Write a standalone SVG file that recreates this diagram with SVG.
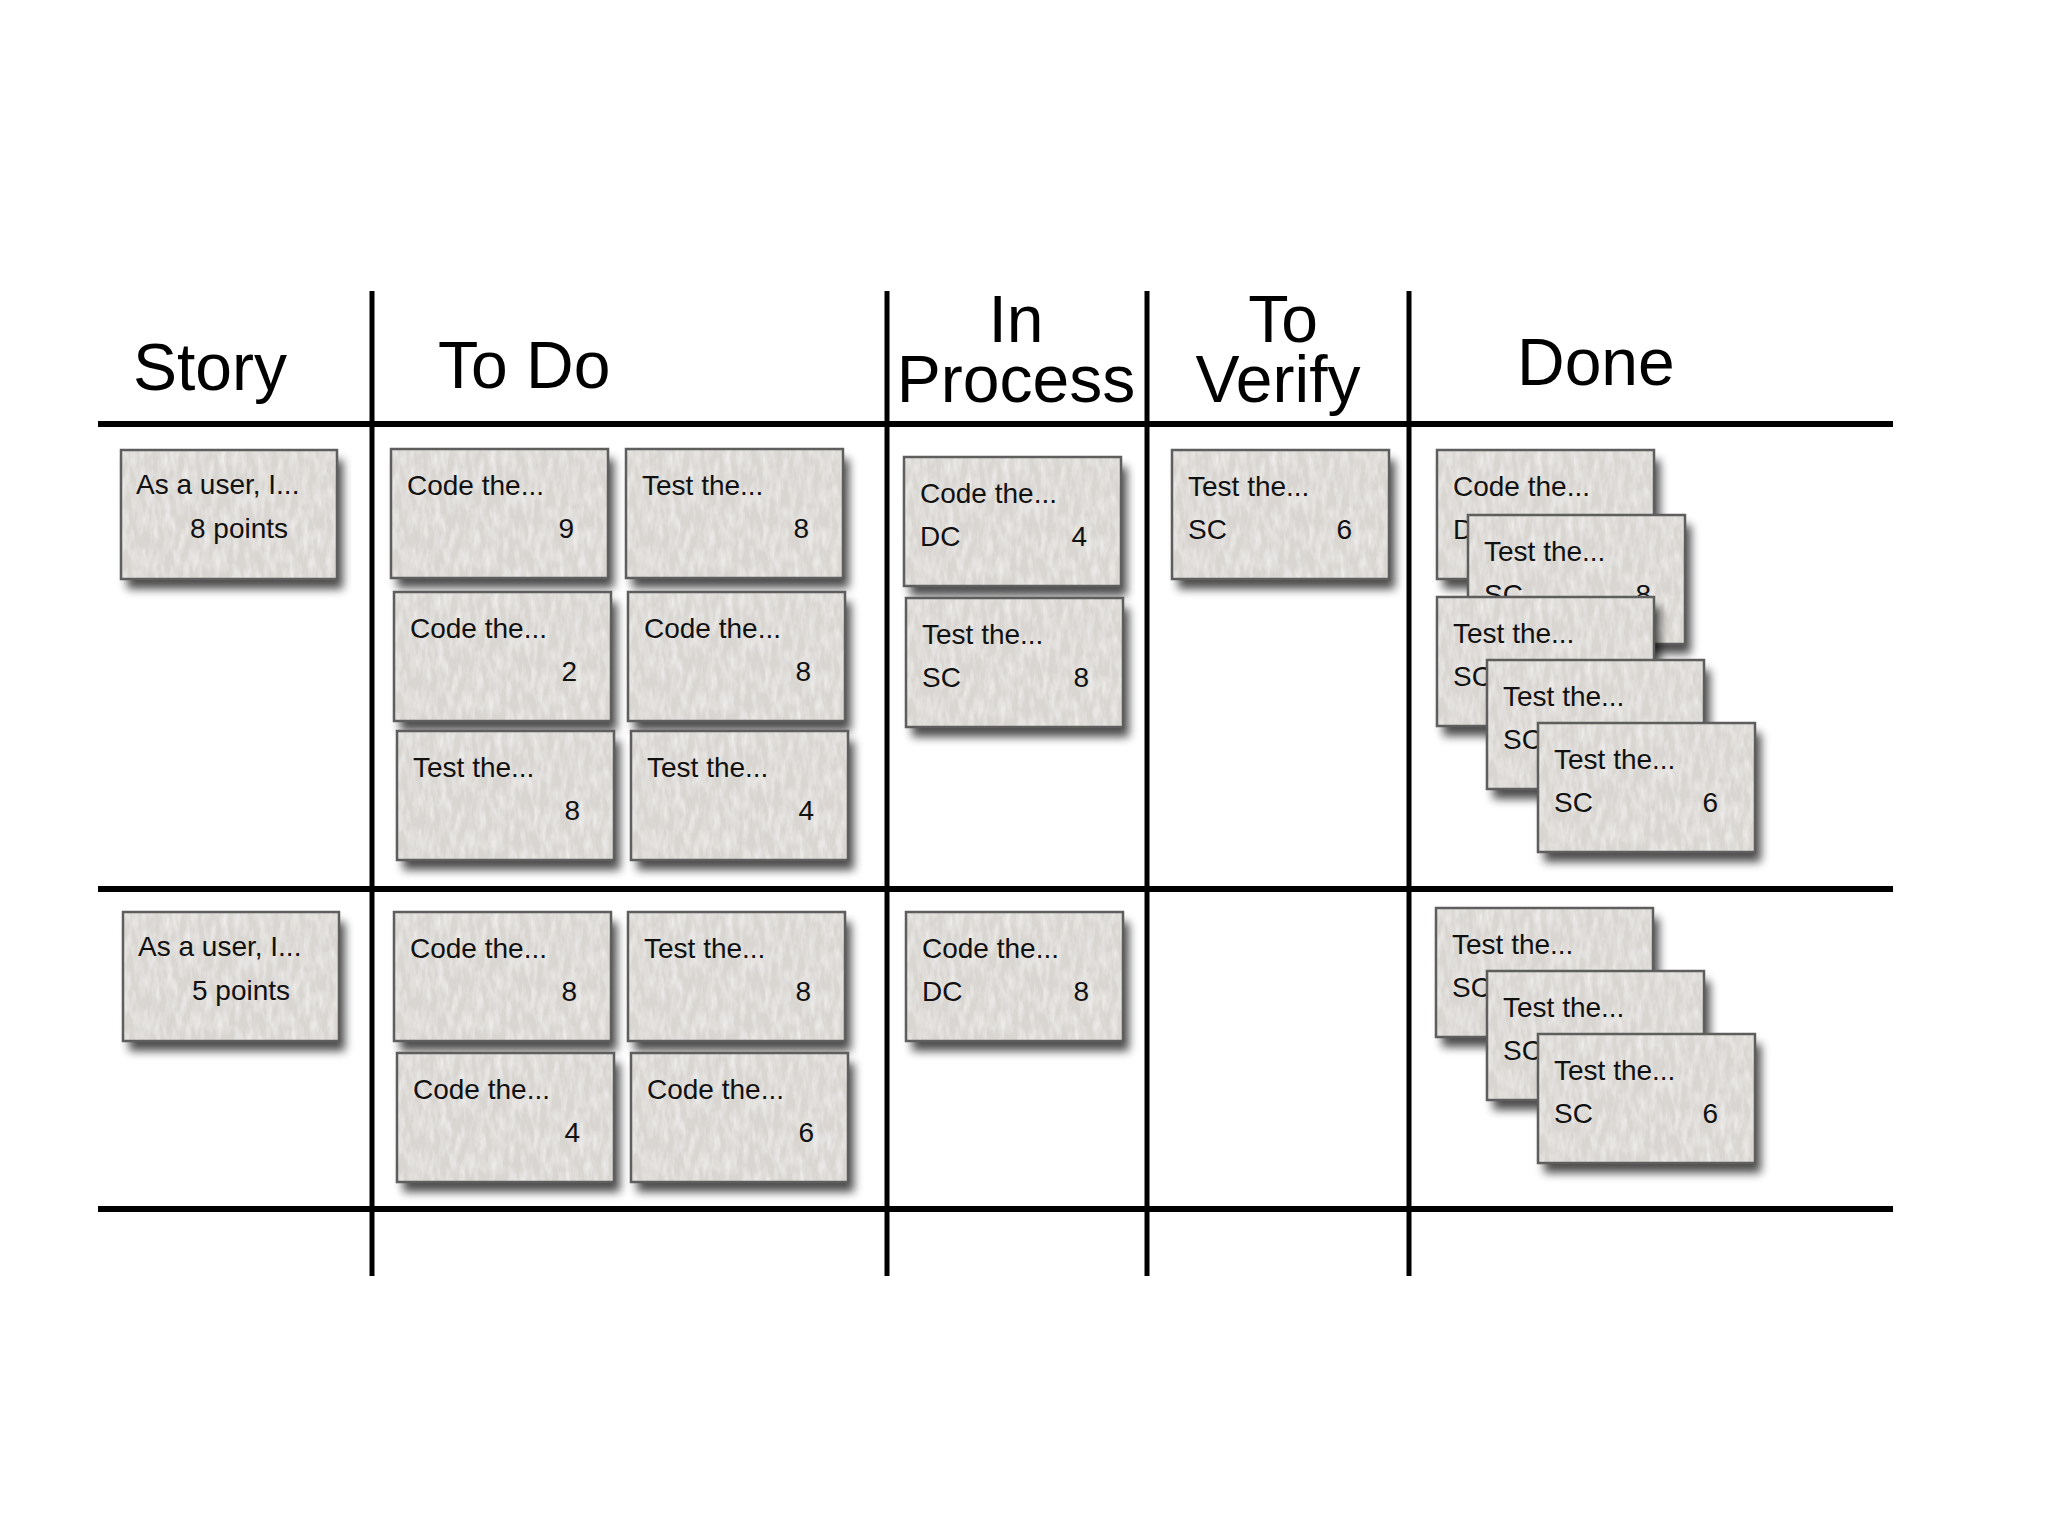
<svg xmlns="http://www.w3.org/2000/svg" width="2048" height="1536" viewBox="0 0 2048 1536">
<defs>
  <filter id="paper" x="-10%" y="-12%" width="125%" height="145%" color-interpolation-filters="sRGB">
    <feGaussianBlur in="SourceAlpha" stdDeviation="5" result="b"/>
    <feOffset in="b" dx="6" dy="10" result="ob"/>
    <feComponentTransfer in="ob" result="sh"><feFuncA type="linear" slope="0.7"/></feComponentTransfer>
    <feTurbulence type="fractalNoise" baseFrequency="0.16 0.05" numOctaves="3" seed="7" result="noise"/>
    <feColorMatrix in="noise" type="matrix" values="0 0 0 0 1  0 0 0 0 1  0 0 0 0 1  1.1 0 0 0 -0.4" result="wn"/>
    <feComposite in="wn" in2="SourceAlpha" operator="in" result="tex"/>
    <feMerge><feMergeNode in="sh"/><feMergeNode in="SourceGraphic"/><feMergeNode in="tex"/></feMerge>
  </filter>
</defs>
<style>
  .hdr { font-family: "Liberation Sans", Arial, sans-serif; font-size: 66px; fill: #000; }
  .cbg { fill: #d9d6d2; filter: url(#paper); }
  .cbd { fill: none; stroke: #5e5e5e; stroke-width: 2.5; }
  .ct { font-family: "Liberation Sans", Arial, sans-serif; font-size: 28px; fill: #111; }
  .num { text-anchor: end; }
  .hl { stroke: #000; stroke-width: 6; }
  .vl { stroke: #000; stroke-width: 5; }
</style>
<rect width="2048" height="1536" fill="#ffffff"/>

<g id="grid">
  <line class="hl" x1="98" y1="424" x2="1893" y2="424"/>
  <line class="hl" x1="98" y1="889" x2="1893" y2="889"/>
  <line class="hl" x1="98" y1="1209" x2="1893" y2="1209"/>
  <line class="vl" x1="372" y1="291" x2="372" y2="1276"/>
  <line class="vl" x1="887" y1="291" x2="887" y2="1276"/>
  <line class="vl" x1="1147" y1="291" x2="1147" y2="1276"/>
  <line class="vl" x1="1409" y1="291" x2="1409" y2="1276"/>
</g>

<g id="headers">
  <text class="hdr" x="133" y="390">Story</text>
  <text class="hdr" x="438" y="388">To Do</text>
  <text class="hdr" x="1016" y="342" text-anchor="middle">In</text>
  <text class="hdr" x="1016" y="402" text-anchor="middle">Process</text>
  <text class="hdr" x="1283" y="342" text-anchor="middle">To</text>
  <text class="hdr" x="1278" y="402" text-anchor="middle">Verify</text>
  <text class="hdr" x="1517" y="385">Done</text>
</g>

<g id="story-1" transform="translate(121,450)">
  <rect class="cbg" width="216" height="129"/><rect class="cbd" width="216" height="129"/>
  <text class="ct" x="15" y="44">As a user, I...</text>
  <text class="ct" x="69" y="88">8 points</text>
</g>
<g id="story-2" transform="translate(123,912)">
  <rect class="cbg" width="216" height="129"/><rect class="cbd" width="216" height="129"/>
  <text class="ct" x="15" y="44">As a user, I...</text>
  <text class="ct" x="69" y="88">5 points</text>
</g>

<g id="todo-1a" transform="translate(391,449)">
  <rect class="cbg" width="217" height="129"/><rect class="cbd" width="217" height="129"/>
  <text class="ct" x="16" y="46">Code the...</text><text class="ct num" x="183" y="89">9</text>
</g>
<g id="todo-1b" transform="translate(626,449)">
  <rect class="cbg" width="217" height="129"/><rect class="cbd" width="217" height="129"/>
  <text class="ct" x="16" y="46">Test the...</text><text class="ct num" x="183" y="89">8</text>
</g>
<g id="todo-1c" transform="translate(394,592)">
  <rect class="cbg" width="217" height="129"/><rect class="cbd" width="217" height="129"/>
  <text class="ct" x="16" y="46">Code the...</text><text class="ct num" x="183" y="89">2</text>
</g>
<g id="todo-1d" transform="translate(628,592)">
  <rect class="cbg" width="217" height="129"/><rect class="cbd" width="217" height="129"/>
  <text class="ct" x="16" y="46">Code the...</text><text class="ct num" x="183" y="89">8</text>
</g>
<g id="todo-1e" transform="translate(397,731)">
  <rect class="cbg" width="217" height="129"/><rect class="cbd" width="217" height="129"/>
  <text class="ct" x="16" y="46">Test the...</text><text class="ct num" x="183" y="89">8</text>
</g>
<g id="todo-1f" transform="translate(631,731)">
  <rect class="cbg" width="217" height="129"/><rect class="cbd" width="217" height="129"/>
  <text class="ct" x="16" y="46">Test the...</text><text class="ct num" x="183" y="89">4</text>
</g>

<g id="todo-2a" transform="translate(394,912)">
  <rect class="cbg" width="217" height="129"/><rect class="cbd" width="217" height="129"/>
  <text class="ct" x="16" y="46">Code the...</text><text class="ct num" x="183" y="89">8</text>
</g>
<g id="todo-2b" transform="translate(628,912)">
  <rect class="cbg" width="217" height="129"/><rect class="cbd" width="217" height="129"/>
  <text class="ct" x="16" y="46">Test the...</text><text class="ct num" x="183" y="89">8</text>
</g>
<g id="todo-2c" transform="translate(397,1053)">
  <rect class="cbg" width="217" height="129"/><rect class="cbd" width="217" height="129"/>
  <text class="ct" x="16" y="46">Code the...</text><text class="ct num" x="183" y="89">4</text>
</g>
<g id="todo-2d" transform="translate(631,1053)">
  <rect class="cbg" width="217" height="129"/><rect class="cbd" width="217" height="129"/>
  <text class="ct" x="16" y="46">Code the...</text><text class="ct num" x="183" y="89">6</text>
</g>

<g id="inproc-1a" transform="translate(904,457)">
  <rect class="cbg" width="217" height="129"/><rect class="cbd" width="217" height="129"/>
  <text class="ct" x="16" y="46">Code the...</text><text class="ct" x="16" y="89">DC</text><text class="ct num" x="183" y="89">4</text>
</g>
<g id="inproc-1b" transform="translate(906,598)">
  <rect class="cbg" width="217" height="129"/><rect class="cbd" width="217" height="129"/>
  <text class="ct" x="16" y="46">Test the...</text><text class="ct" x="16" y="89">SC</text><text class="ct num" x="183" y="89">8</text>
</g>
<g id="inproc-2a" transform="translate(906,912)">
  <rect class="cbg" width="217" height="129"/><rect class="cbd" width="217" height="129"/>
  <text class="ct" x="16" y="46">Code the...</text><text class="ct" x="16" y="89">DC</text><text class="ct num" x="183" y="89">8</text>
</g>

<g id="verify-1a" transform="translate(1172,450)">
  <rect class="cbg" width="217" height="129"/><rect class="cbd" width="217" height="129"/>
  <text class="ct" x="16" y="46">Test the...</text><text class="ct" x="16" y="89">SC</text><text class="ct num" x="180" y="89">6</text>
</g>

<g id="done-1a" transform="translate(1437,450)">
  <rect class="cbg" width="217" height="129"/><rect class="cbd" width="217" height="129"/>
  <text class="ct" x="16" y="46">Code the...</text><text class="ct" x="16" y="89">DC</text>
</g>
<g id="done-1b" transform="translate(1468,515)">
  <rect class="cbg" width="217" height="129"/><rect class="cbd" width="217" height="129"/>
  <text class="ct" x="16" y="46">Test the...</text><text class="ct" x="16" y="89">SC</text><text class="ct num" x="183" y="89">8</text>
</g>
<g id="done-1c" transform="translate(1437,597)">
  <rect class="cbg" width="217" height="129"/><rect class="cbd" width="217" height="129"/>
  <text class="ct" x="16" y="46">Test the...</text><text class="ct" x="16" y="89">SC</text>
</g>
<g id="done-1d" transform="translate(1487,660)">
  <rect class="cbg" width="217" height="129"/><rect class="cbd" width="217" height="129"/>
  <text class="ct" x="16" y="46">Test the...</text><text class="ct" x="16" y="89">SC</text>
</g>
<g id="done-1e" transform="translate(1538,723)">
  <rect class="cbg" width="217" height="129"/><rect class="cbd" width="217" height="129"/>
  <text class="ct" x="16" y="46">Test the...</text><text class="ct" x="16" y="89">SC</text><text class="ct num" x="180" y="89">6</text>
</g>

<g id="done-2a" transform="translate(1436,908)">
  <rect class="cbg" width="217" height="129"/><rect class="cbd" width="217" height="129"/>
  <text class="ct" x="16" y="46">Test the...</text><text class="ct" x="16" y="89">SC</text>
</g>
<g id="done-2b" transform="translate(1487,971)">
  <rect class="cbg" width="217" height="129"/><rect class="cbd" width="217" height="129"/>
  <text class="ct" x="16" y="46">Test the...</text><text class="ct" x="16" y="89">SC</text>
</g>
<g id="done-2c" transform="translate(1538,1034)">
  <rect class="cbg" width="217" height="129"/><rect class="cbd" width="217" height="129"/>
  <text class="ct" x="16" y="46">Test the...</text><text class="ct" x="16" y="89">SC</text><text class="ct num" x="180" y="89">6</text>
</g>
</svg>
